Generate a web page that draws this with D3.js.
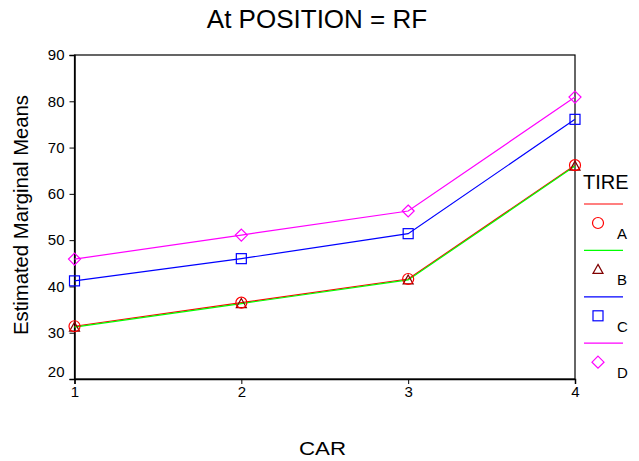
<!DOCTYPE html>
<html>
<head>
<meta charset="utf-8">
<script src="https://cdn.jsdelivr.net/npm/d3@7"></script>
<style>
  body { margin: 0; background: #fff; }
  text { font-family: "Liberation Sans", Arial, sans-serif; fill: #000; }
</style>
</head>
<body>
<div id="chart"></div>
<script>
// values
const cars = [1, 2, 3, 4];
const tires = ["A", "B", "C", "D"];
const meansA = [31.4, 36.5, 41.6, 66.2];
const meansB = [31.2, 36.3, 41.4, 66.0];
const meansC = [41.2, 46.0, 51.4, 76.1];
const meansD = [45.9, 51.1, 56.3, 80.9];
const yTicks = [20, 30, 40, 50, 60, 70, 80, 90];

const series = [
  { name: "A", values: meansA, line: "#ff0000", mark: "#ff0000", shape: "circle" },
  { name: "B", values: meansB, line: "#00ff00", mark: "#800000", shape: "triangle" },
  { name: "C", values: meansC, line: "#0000ff", mark: "#0000ff", shape: "square" },
  { name: "D", values: meansD, line: "#ff00ff", mark: "#ff00ff", shape: "diamond" }
];

const width = 639, height = 461;
const margin = { left: 74.5, right: 64, top: 55, bottom: 82 };

const svg = d3.select("#chart").append("svg")
  .attr("width", width).attr("height", height);

const x = d3.scaleLinear().domain([1, 4]).range([margin.left, width - margin.right]);
const y = d3.scaleLinear().domain([20, 90]).range([height - margin.bottom, margin.top]);

// frame
svg.append("rect")
  .attr("x", x(1)).attr("y", y(90))
  .attr("width", x(4) - x(1)).attr("height", y(20) - y(90))
  .attr("fill", "none").attr("stroke", "#000").attr("stroke-width", 1.2);

// axes
const xAxis = svg.append("g")
  .attr("transform", `translate(0,${y(20)})`)
  .call(d3.axisBottom(x).tickValues(cars).tickFormat(d3.format("d")).tickSize(5).tickPadding(2));
const yAxis = svg.append("g")
  .attr("transform", `translate(${x(1)},0)`)
  .call(d3.axisLeft(y).tickValues(yTicks).tickSize(5).tickPadding(5));

[xAxis, yAxis].forEach(a => {
  a.select(".domain").attr("stroke", "#000").attr("stroke-width", 1.5);
  a.selectAll(".tick line").attr("stroke", "#000");
  a.selectAll("text").style("font-size", "15px").style("font-family", "'Liberation Sans', Arial, sans-serif");
});
// bottom label sits a bit above its tick
yAxis.selectAll(".tick").filter(d => d === 20).select("text").attr("dy", "-0.2em");

// lines
const line = d3.line().x((d, i) => x(cars[i])).y(d => y(d));

svg.append("g").selectAll("path")
  .data(series)
  .enter()
  .append("path")
  .attr("d", d => line(d.values))
  .attr("fill", "none")
  .attr("stroke", d => d.line)
  .attr("stroke-width", 1.2);

// marker symbols, drawn by hand so the sizes match the picture
function marker(g, shape, color, cx, cy) {
  if (shape === "circle") {
    g.append("circle").attr("cx", cx).attr("cy", cy).attr("r", 5.5)
      .attr("fill", "none").attr("stroke", color).attr("stroke-width", 1.2);
  } else if (shape === "triangle") {
    g.append("path")
      .attr("d", `M${cx},${cy - 5}L${cx + 5},${cy + 4}L${cx - 5},${cy + 4}Z`)
      .attr("fill", "none").attr("stroke", color).attr("stroke-width", 1.2);
  } else if (shape === "square") {
    g.append("rect").attr("x", cx - 5).attr("y", cy - 5).attr("width", 10).attr("height", 10)
      .attr("fill", "none").attr("stroke", color).attr("stroke-width", 1.2);
  } else {
    g.append("path")
      .attr("d", `M${cx},${cy - 6}L${cx + 6},${cy}L${cx},${cy + 6}L${cx - 6},${cy}Z`)
      .attr("fill", "none").attr("stroke", color).attr("stroke-width", 1.2);
  }
}

const marks = svg.append("g");
// draw A last so circles sit on top of triangles
[series[3], series[2], series[1], series[0]].forEach(s => {
  s.values.forEach((v, i) => marker(marks, s.shape, s.mark, x(cars[i]), y(v)));
});

// title and axis labels
svg.append("text")
  .attr("x", 317).attr("y", 28)
  .attr("text-anchor", "middle")
  .style("font-size", "26px")
  .text("At POSITION = RF");

svg.append("text")
  .attr("x", 322.5).attr("y", 455)
  .attr("text-anchor", "middle")
  .attr("textLength", 47)
  .attr("lengthAdjust", "spacingAndGlyphs")
  .style("font-size", "18px")
  .text("CAR");

svg.append("text")
  .attr("transform", `translate(28,215) rotate(-90)`)
  .attr("text-anchor", "middle")
  .attr("textLength", 240)
  .attr("lengthAdjust", "spacingAndGlyphs")
  .style("font-size", "20px")
  .text("Estimated Marginal Means");

// legend
const legend = svg.append("g");
legend.append("text")
  .attr("x", 583).attr("y", 189)
  .style("font-size", "20px")
  .text("TIRE");

series.forEach((s, i) => {
  const top = 204 + i * 46.4;
  legend.append("line")
    .attr("x1", 584).attr("x2", 623)
    .attr("y1", top).attr("y2", top)
    .attr("stroke", s.line).attr("stroke-width", 1.2);
  marker(legend, s.shape, s.mark, 598, top + 19);
  legend.append("text")
    .attr("x", 617).attr("y", top + 35)
    .style("font-size", "15px")
    .text(tires[i]);
});
</script>
</body>
</html>
